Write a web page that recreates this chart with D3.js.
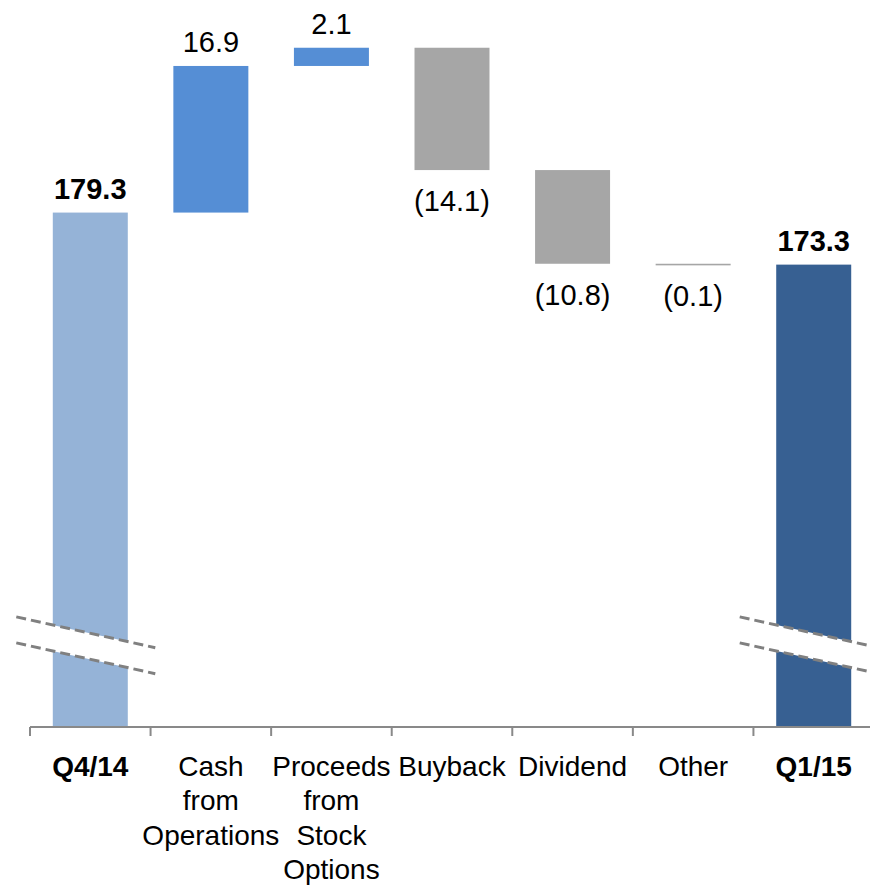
<!DOCTYPE html>
<html>
<head>
<meta charset="utf-8">
<script src="https://cdn.jsdelivr.net/npm/d3@7"></script>
<style>
  html, body { margin: 0; padding: 0; background: #fff; }
  svg { display: block; font-family: "Liberation Sans", Arial, sans-serif; }
  .val { font-size: 29px; fill: #000; }
  .val.total { font-weight: bold; }
  .cat { font-size: 28px; fill: #000; }
  .cat.total { font-weight: bold; }
</style>
</head>
<body>
<div id="chart"></div>
<script>
// chart data
const categories = ['Q4/14', 'Cash from Operations', 'Proceeds from Stock Options', 'Buyback', 'Dividend', 'Other', 'Q1/15'];
const categoryLines = [['Q4/14'], ['Cash', 'from', 'Operations'], ['Proceeds', 'from', 'Stock', 'Options'], ['Buyback'], ['Dividend'], ['Other'], ['Q1/15']];
const values = [179.3, 16.9, 2.1, -14.1, -10.8, -0.1, 173.3];
const kinds = ['total', 'increase', 'increase', 'decrease', 'decrease', 'decrease', 'total'];
const valueLabels = ['179.3', '16.9', '2.1', '(14.1)', '(10.8)', '(0.1)', '173.3'];
const axisMin = 120, axisMax = 200;
const breakValue = 129.3;

const W = 870, H = 885;
const margin = { left: 30, right: -4, top: 33, bottom: 158 };

const colors = {
  'Q4/14': '#95b3d7',
  'Q1/15': '#376092',
  increase: '#558ed5',
  decrease: '#a6a6a6'
};

// running totals for the waterfall
let running = 0;
const rows = categories.map((c, i) => {
  let start, end;
  if (kinds[i] === 'total') {
    start = axisMin; end = values[i]; running = values[i];
  } else {
    start = running; end = running + values[i]; running = end;
  }
  return { cat: c, lines: categoryLines[i], kind: kinds[i], value: values[i], label: valueLabels[i], start, end };
});

const svg = d3.select('#chart').append('svg')
  .attr('width', W).attr('height', H);

const x = d3.scaleBand()
  .domain(categories)
  .range([margin.left, W - margin.right])
  .paddingInner(0.378)
  .paddingOuter(0.189);

const y = d3.scaleLinear()
  .domain([axisMin, axisMax])
  .range([H - margin.bottom, margin.top]);

const step = x.step();
const bw = x.bandwidth();
const cx = d => x(d.cat) + bw / 2;

// bars
svg.selectAll('rect.bar')
  .data(rows)
  .enter().append('rect')
  .attr('class', 'bar')
  .attr('x', d => x(d.cat))
  .attr('width', bw)
  .attr('y', d => y(Math.max(d.start, d.end)))
  .attr('height', d => Math.max(1.6, Math.abs(y(d.start) - y(d.end))))
  .attr('fill', d => d.kind === 'total' ? colors[d.cat] : colors[d.kind]);

// axis break marks on the total bars
const slope = 0.222;
const gap = 13;
rows.filter(d => d.kind === 'total').forEach(d => {
  const c = cx(d), yc = y(breakValue);
  const x0 = c - 74, x1 = c + 65;
  const yA = xx => yc - gap + (xx - c) * slope;
  const yB = xx => yc + gap + (xx - c) * slope;
  svg.append('polygon')
    .attr('points', [[x0, yA(x0)], [x1, yA(x1)], [x1, yB(x1)], [x0, yB(x0)]].map(p => p.join(',')).join(' '))
    .attr('fill', '#fff');
  [yA, yB].forEach(f => {
    svg.append('line')
      .attr('x1', x0).attr('y1', f(x0))
      .attr('x2', x1).attr('y2', f(x1))
      .attr('stroke', '#808080')
      .attr('stroke-width', 3)
      .attr('stroke-dasharray', '10,5');
  });
});

// value labels
svg.selectAll('text.val')
  .data(rows)
  .enter().append('text')
  .attr('class', d => 'val' + (d.kind === 'total' ? ' total' : ''))
  .attr('text-anchor', 'middle')
  .attr('x', cx)
  .attr('y', d => d.value >= 0 ? y(Math.max(d.start, d.end)) - 14 : y(Math.min(d.start, d.end)) + 41)
  .text(d => d.label);

// x axis
const axisY = y(axisMin);
svg.append('line')
  .attr('x1', margin.left).attr('x2', W)
  .attr('y1', axisY).attr('y2', axisY)
  .attr('stroke', '#898989').attr('stroke-width', 2);

svg.selectAll('line.tick')
  .data(d3.range(categories.length + 1))
  .enter().append('line')
  .attr('class', 'tick')
  .attr('x1', i => margin.left + i * step)
  .attr('x2', i => margin.left + i * step)
  .attr('y1', axisY).attr('y2', axisY + 9)
  .attr('stroke', '#898989').attr('stroke-width', 2);

const cats = svg.selectAll('text.cat')
  .data(rows)
  .enter().append('text')
  .attr('class', d => 'cat' + (d.kind === 'total' ? ' total' : ''))
  .attr('text-anchor', 'middle')
  .attr('x', cx)
  .attr('y', axisY + 49);

cats.selectAll('tspan')
  .data(d => d.lines.map(l => ({ l, c: cx(d) })))
  .enter().append('tspan')
  .attr('x', t => t.c)
  .attr('dy', (t, i) => i === 0 ? 0 : 34.3)
  .text(t => t.l);
</script>
</body>
</html>
